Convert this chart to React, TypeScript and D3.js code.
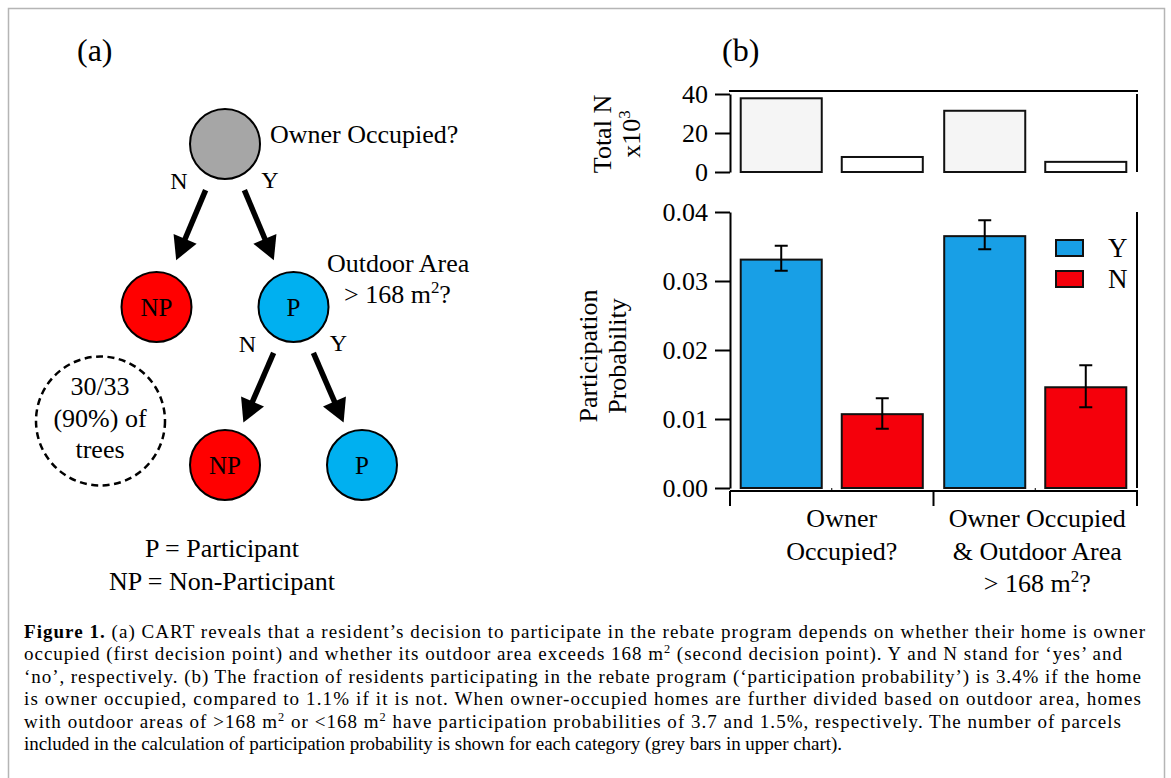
import { useRef, useEffect } from "react";
import * as d3 from "d3";

// ---- panel (b) data
const categories = ["owner", "ownerArea"];
const categoryLines = [
  [[{ t: "Owner" }], [{ t: "Occupied?" }]],
  [[{ t: "Owner Occupied" }], [{ t: "& Outdoor Area" }], [{ t: "> 168 m" }, { t: "2", sup: true }, { t: "?" }]],
];
const seriesNames = ["Y", "N"];
const totalY = [37.8, 31.4]; // x10^3 parcels
const totalN = [7.7, 5.2];
const probY = [0.0331, 0.0365];
const probN = [0.0107, 0.0146];
const probYLow = [0.0315, 0.0346];
const probYHigh = [0.0351, 0.0388];
const probNLow = [0.0086, 0.0117];
const probNHigh = [0.013, 0.0178];
const totalTicks = [0, 20, 40];
const probTicks = [0, 0.01, 0.02, 0.03, 0.04];
const seriesColors = ["#189fe6", "#f5000b"];
const totalColors = ["#f5f5f5", "#ffffff"];

// ---- panel (a) decision tree
const treeData = {
  name: "",
  fill: "#a6a6a6",
  question: [[{ t: "Owner Occupied?" }]],
  children: [
    { name: "NP", fill: "#ff0000" },
    {
      name: "P",
      fill: "#00b0f0",
      question: [[{ t: "Outdoor Area" }], [{ t: "> 168 m" }, { t: "2", sup: true }, { t: "?" }]],
      children: [
        { name: "NP", fill: "#ff0000" },
        { name: "P", fill: "#00b0f0" },
      ],
    },
  ],
};
const branchLabels = ["N", "Y"];
const agreementLines = ["30/33", "(90%) of", "trees"];
const keyLines = ["P = Participant", "NP = Non-Participant"];

const captionLines = [
  [{ t: "Figure 1.", b: true }, { t: " (a) CART reveals that a resident’s decision to participate in the rebate program depends on whether their home is owner" }],
  [{ t: "occupied (first decision point) and whether its outdoor area exceeds 168 m" }, { t: "2", sup: true }, { t: " (second decision point). Y and N stand for ‘yes’ and" }],
  [{ t: "‘no’, respectively. (b) The fraction of residents participating in the rebate program (‘participation probability’) is 3.4% if the home" }],
  [{ t: "is owner occupied, compared to 1.1% if it is not. When owner-occupied homes are further divided based on outdoor area, homes" }],
  [{ t: "with outdoor areas of >168 m" }, { t: "2", sup: true }, { t: " or <168 m" }, { t: "2", sup: true }, { t: " have participation probabilities of 3.7 and 1.5%, respectively. The number of parcels" }],
  [{ t: "included in the calculation of participation probability is shown for each category (grey bars in upper chart)." }],
];
const captionWidths = [1121, 1098, 1117, 1117, 1097, 818];

const FONT = "'Liberation Serif', 'Times New Roman', serif";

// write text segments with superscripts into a <text>
const addRich = (text, segs, size) => {
  const sup = Math.round(size * 0.38);
  let shifted = false;
  segs.forEach((s) => {
    const ts = text.append("tspan").text(s.t);
    if (s.sup) {
      ts.attr("font-size", size * 0.65).attr("dy", -sup);
      shifted = true;
    } else if (shifted) {
      ts.attr("dy", sup);
      shifted = false;
    }
    if (s.b) ts.attr("font-weight", "bold");
  });
  return text;
};

const App = () => {
  const svgRef = useRef(null);

  useEffect(() => {
    const svg = d3.select(svgRef.current);
    svg.selectAll("*").remove();
    svg.attr("font-family", FONT);

    // outer frame
    svg.append("rect")
      .attr("x", 8.5).attr("y", 8.5).attr("width", 1156).attr("height", 800)
      .attr("fill", "none").attr("stroke", "#b5b5b5").attr("stroke-width", 1.5);

    svg.append("text").attr("x", 77).attr("y", 61).attr("font-size", 32).text("(a)");
    svg.append("text").attr("x", 722).attr("y", 61).attr("font-size", 32).text("(b)");

    // ===== panel (a): tree
    const root = d3.hierarchy(treeData);
    const levelY = d3.scaleOrdinal().domain([0, 1, 2]).range([144, 307, 465]);
    const spread = 68.5;
    root.each((n) => {
      if (!n.parent) n.x = 225;
      else n.x = n.parent.x + (n.parent.children.indexOf(n) === 0 ? -spread : spread);
      n.y = levelY(n.depth);
    });

    const ga = svg.append("g");

    // arrows
    root.links().forEach((l) => {
      const p = l.source, c = l.target;
      const dx = c.x - p.x, dy = c.y - p.y;
      const len = Math.hypot(dx, dy);
      const ux = dx / len, uy = dy / len;
      const sx = p.x + ux * 50, sy = p.y + uy * 50;
      const tx = p.x + ux * 126, ty = p.y + uy * 126;
      const bx = tx - ux * 23, by = ty - uy * 23;
      ga.append("line")
        .attr("x1", sx).attr("y1", sy).attr("x2", bx + ux * 2).attr("y2", by + uy * 2)
        .attr("stroke", "#000").attr("stroke-width", 5.5);
      ga.append("path")
        .attr("d", `M${tx},${ty}L${bx - uy * 12.5},${by + ux * 12.5}L${bx + uy * 12.5},${by - ux * 12.5}Z`)
        .attr("fill", "#000");
    });

    root.descendants().forEach((n) => {
      ga.append("circle")
        .attr("cx", n.x).attr("cy", n.y).attr("r", 35)
        .attr("fill", n.data.fill).attr("stroke", "#000").attr("stroke-width", 2);
      if (n.data.name) {
        ga.append("text")
          .attr("x", n.x).attr("y", n.y + 9).attr("text-anchor", "middle")
          .attr("font-size", 25).text(n.data.name);
      }
      if (n.children) {
        ga.append("text").attr("x", n.x - 46).attr("y", n.y + 45)
          .attr("text-anchor", "middle").attr("font-size", 24).text(branchLabels[0]);
        ga.append("text").attr("x", n.x + 45).attr("y", n.y + 44)
          .attr("text-anchor", "middle").attr("font-size", 24).text(branchLabels[1]);
      }
      if (n.data.question) {
        const q = n.data.question;
        q.forEach((line, i) => {
          const t = ga.append("text").attr("font-size", 26);
          if (q.length === 1) t.attr("x", n.x + 45).attr("y", n.y - 1);
          else t.attr("x", n.x + (i === 0 ? 33.5 : 50.5)).attr("y", n.y - 35 + i * 31);
          addRich(t, line, 26);
        });
      }
    });

    // dashed agreement circle
    ga.append("circle")
      .attr("cx", 100.5).attr("cy", 421).attr("r", 64.5)
      .attr("fill", "none").attr("stroke", "#000").attr("stroke-width", 2.5)
      .attr("stroke-dasharray", "7 4.5");
    agreementLines.forEach((s, i) => {
      ga.append("text").attr("x", 100).attr("y", 395 + i * 31.5)
        .attr("text-anchor", "middle").attr("font-size", 26).text(s);
    });
    keyLines.forEach((s, i) => {
      ga.append("text").attr("x", 222).attr("y", 557 + i * 33)
        .attr("text-anchor", "middle").attr("font-size", 26).text(s);
    });

    // ===== panel (b): bars
    const xGroup = d3.scaleBand().domain(categories).range([730, 1137]).padding(0);
    const xSeries = d3.scaleBand().domain(seriesNames)
      .range([0, xGroup.bandwidth()]).paddingInner(0.198).paddingOuter(0.106);
    const yTop = d3.scaleLinear().domain([0, 40]).range([172, 94]);
    const yProb = d3.scaleLinear().domain([0, 0.04]).range([488, 212]);

    const rows = categories.flatMap((c, i) => [
      { c, s: "Y", total: totalY[i], p: probY[i], lo: probYLow[i], hi: probYHigh[i], k: 0 },
      { c, s: "N", total: totalN[i], p: probN[i], lo: probNLow[i], hi: probNHigh[i], k: 1 },
    ]);
    const bx = (d) => xGroup(d.c) + xSeries(d.s);
    const bw = xSeries.bandwidth();

    const gb = svg.append("g");

    const styleAxis = (g) => {
      g.attr("font-family", FONT).attr("font-size", 26);
      g.selectAll("line").attr("stroke", "#000").attr("stroke-width", 2);
      g.select(".domain").attr("stroke", "#000").attr("stroke-width", 2);
      g.selectAll("text").attr("fill", "#000");
    };

    // top panel: total N
    gb.append("g").attr("transform", "translate(730,0)")
      .call(d3.axisLeft(yTop).tickValues(totalTicks).tickSize(15).tickSizeOuter(0).tickPadding(7).tickFormat(d3.format("d")))
      .call(styleAxis);
    gb.append("line").attr("x1", 729).attr("x2", 1138).attr("y1", 91).attr("y2", 91)
      .attr("stroke", "#000").attr("stroke-width", 2);
    gb.append("line").attr("x1", 1137).attr("x2", 1137).attr("y1", yTop(40)).attr("y2", yTop(0))
      .attr("stroke", "#000").attr("stroke-width", 2);
    gb.selectAll(".tot").data(rows).enter().append("rect")
      .attr("x", bx).attr("width", bw)
      .attr("y", (d) => yTop(d.total)).attr("height", (d) => yTop(0) - yTop(d.total))
      .attr("fill", (d) => totalColors[d.k]).attr("stroke", "#111").attr("stroke-width", 2);

    // main panel: participation probability
    gb.append("g").attr("transform", "translate(730,0)")
      .call(d3.axisLeft(yProb).tickValues(probTicks).tickSize(15).tickSizeOuter(0).tickPadding(7).tickFormat(d3.format(".2f")))
      .call(styleAxis);
    gb.append("line").attr("x1", 1137).attr("x2", 1137).attr("y1", yProb(0.04)).attr("y2", yProb(0))
      .attr("stroke", "#000").attr("stroke-width", 2);
    gb.selectAll(".bar").data(rows).enter().append("rect")
      .attr("x", bx).attr("width", bw)
      .attr("y", (d) => yProb(d.p)).attr("height", (d) => yProb(0) - yProb(d.p))
      .attr("fill", (d) => seriesColors[d.k]).attr("stroke", "#111").attr("stroke-width", 2);

    // error bars
    rows.forEach((d) => {
      const cx = bx(d) + bw / 2;
      gb.append("path")
        .attr("d", `M${cx},${yProb(d.lo)}V${yProb(d.hi)}M${cx - 6.5},${yProb(d.lo)}H${cx + 6.5}M${cx - 6.5},${yProb(d.hi)}H${cx + 6.5}`)
        .attr("fill", "none").attr("stroke", "#000").attr("stroke-width", 2);
    });

    // category axis
    const xa = gb.append("g").attr("stroke", "#000").attr("stroke-width", 2);
    xa.append("line").attr("x1", 730).attr("x2", 1138).attr("y1", 491).attr("y2", 491);
    const bounds = [xGroup(categories[0]), ...categories.map((c) => xGroup(c) + xGroup.bandwidth())];
    bounds.forEach((x) => xa.append("line").attr("x1", x).attr("x2", x).attr("y1", 491).attr("y2", 506));
    categories.forEach((c) => {
      const mx = xGroup(c) + xGroup.bandwidth() / 2;
      xa.append("line").attr("x1", mx).attr("x2", mx).attr("y1", 491).attr("y2", 488).attr("stroke-width", 1);
    });
    const labelShift = [10, 2];
    categories.forEach((c, i) => {
      const mx = xGroup(c) + xGroup.bandwidth() / 2 + labelShift[i];
      categoryLines[i].forEach((line, j) => {
        const t = gb.append("text").attr("x", mx).attr("y", 527 + j * 32.5)
          .attr("text-anchor", "middle").attr("font-size", 26);
        addRich(t, line, 26);
      });
    });

    // axis titles (rotated; local y maps to page x)
    const t1 = gb.append("g").attr("transform", "translate(0,134) rotate(-90)");
    t1.append("text").attr("x", 0).attr("y", 611).attr("text-anchor", "middle").attr("font-size", 26).text("Total N");
    addRich(t1.append("text").attr("x", 0).attr("y", 640).attr("text-anchor", "middle").attr("font-size", 26),
      [{ t: "x10" }, { t: "3", sup: true }], 26);
    const t2 = gb.append("g").attr("transform", "translate(0,356) rotate(-90)");
    t2.append("text").attr("x", 0).attr("y", 597).attr("text-anchor", "middle").attr("font-size", 26).text("Participation");
    t2.append("text").attr("x", 0).attr("y", 626).attr("text-anchor", "middle").attr("font-size", 26).text("Probability");

    // legend
    seriesNames.forEach((s, i) => {
      gb.append("rect").attr("x", 1056).attr("y", 240 + i * 31).attr("width", 27).attr("height", 16)
        .attr("fill", seriesColors[i]).attr("stroke", "#111").attr("stroke-width", 2);
      gb.append("text").attr("x", 1108).attr("y", 257 + i * 30.5).attr("font-size", 27).text(s);
    });

    // ===== caption
    captionLines.forEach((segs, i) => {
      const t = svg.append("text").attr("x", 24).attr("y", 638 + i * 22.4)
        .attr("font-size", 19).attr("textLength", captionWidths[i]).attr("lengthAdjust", "spacing");
      addRich(t, segs, 19);
    });
  }, []);

  return (
    <svg ref={svgRef} width={1171} height={778}
      style={{ position: "absolute", left: 0, top: 0, background: "#fff" }} />
  );
};

export default App;
